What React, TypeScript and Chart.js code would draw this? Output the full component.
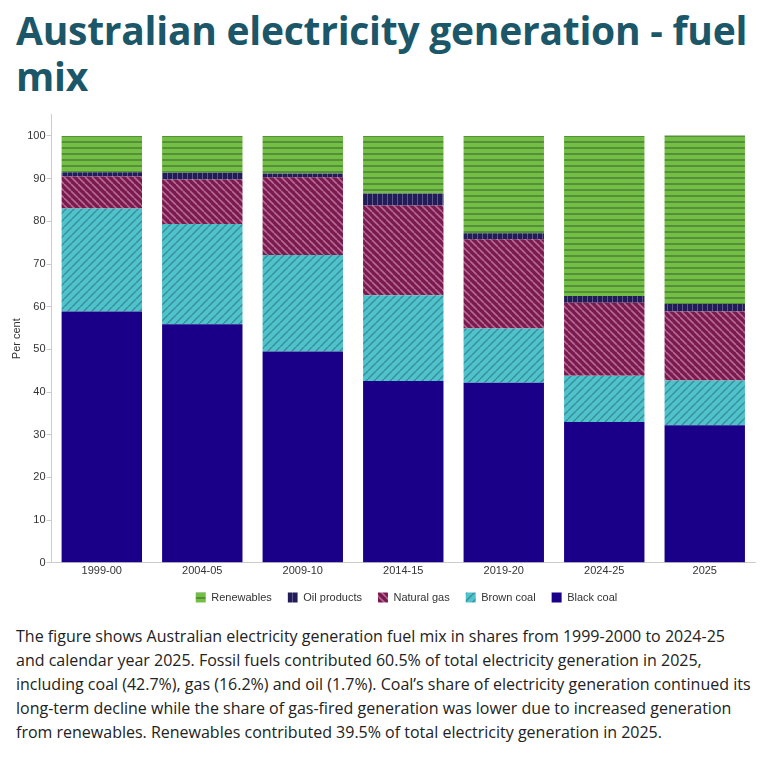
import React, { useEffect, useRef } from "react";
import { Chart, registerables } from "chart.js";

Chart.register(...registerables);

const categories = ["1999-00", "2004-05", "2009-10", "2014-15", "2019-20", "2024-25", "2025"];
const blackCoal = [58.9, 55.9, 49.5, 42.6, 42.2, 33.0, 32.2];
const brownCoal = [24.1, 23.5, 22.6, 20.1, 12.7, 10.8, 10.5];
const naturalGas = [7.5, 10.4, 18.2, 21.0, 20.9, 17.1, 16.2];
const oilProducts = [1.0, 1.6, 0.9, 2.8, 1.4, 1.6, 1.7];
const renewables = [8.5, 8.6, 8.8, 13.5, 22.8, 37.5, 39.5];
const yTicks = [0, 10, 20, 30, 40, 50, 60, 70, 80, 90, 100];

function makePattern(kind: string): CanvasPattern | string {
  const c = document.createElement("canvas");
  const ctx = c.getContext("2d");
  if (!ctx) return "#000";
  if (kind === "renew") {
    c.width = 6; c.height = 6;
    ctx.fillStyle = "#72bf44";
    ctx.fillRect(0, 0, 6, 6);
    ctx.fillStyle = "#558f3c";
    ctx.fillRect(0, 4, 6, 2);
  } else if (kind === "oil") {
    c.width = 5; c.height = 5;
    ctx.fillStyle = "#221d58";
    ctx.fillRect(0, 0, 5, 5);
    ctx.fillStyle = "#5a5688";
    ctx.fillRect(4, 0, 1, 5);
  } else if (kind === "gas") {
    const s = 7;
    c.width = s; c.height = s;
    ctx.fillStyle = "#7a1a4e";
    ctx.fillRect(0, 0, s, s);
    ctx.strokeStyle = "#b56a95";
    ctx.lineWidth = 1.6;
    for (const k of [-1, 0, 1]) {
      ctx.beginPath();
      ctx.moveTo(k * s, 0);
      ctx.lineTo(k * s + s, s);
      ctx.stroke();
    }
  } else if (kind === "brown") {
    const s = 8;
    c.width = s; c.height = s;
    ctx.fillStyle = "#4ec3cc";
    ctx.fillRect(0, 0, s, s);
    ctx.strokeStyle = "#3a8e98";
    ctx.lineWidth = 1.4;
    for (const k of [-1, 0, 1]) {
      ctx.beginPath();
      ctx.moveTo(k * s, s);
      ctx.lineTo(k * s + s, 0);
      ctx.stroke();
    }
  }
  const p = ctx.createPattern(c, "repeat");
  return p || "#000";
}

const shiftLegend = {
  id: "shiftLegend",
  afterLayout(chart: any) {
    const l = chart.legend;
    if (l) {
      l.left += 25;
      l.right += 25;
    }
  },
};

export default function App() {
  const ref = useRef<HTMLCanvasElement | null>(null);
  useEffect(() => {
    if (!ref.current) return;
    const font = { family: "'Liberation Sans', Arial, sans-serif", size: 11 };
    const chart = new Chart(ref.current, {
      type: "bar",
      data: {
        labels: categories,
        datasets: [
          { label: "Black coal", data: blackCoal, backgroundColor: "#1a0088" },
          { label: "Brown coal", data: brownCoal, backgroundColor: makePattern("brown") as any },
          { label: "Natural gas", data: naturalGas, backgroundColor: makePattern("gas") as any },
          { label: "Oil products", data: oilProducts, backgroundColor: makePattern("oil") as any },
          { label: "Renewables", data: renewables, backgroundColor: makePattern("renew") as any },
        ].map((d) => ({ ...d, borderWidth: 0, barPercentage: 0.8, categoryPercentage: 1 })),
      },
      plugins: [shiftLegend],
      options: {
        animation: false,
        responsive: true,
        maintainAspectRatio: false,
        layout: { padding: { top: 4, right: 6, left: 0, bottom: 0 } },
        plugins: {
          tooltip: { enabled: false },
          legend: {
            position: "bottom",
            reverse: true,
            labels: { boxWidth: 10, boxHeight: 10, padding: 16, color: "#333", font },
          },
        },
        scales: {
          x: {
            stacked: true,
            grid: { display: false, drawTicks: false },
            border: { color: "#cccccc" },
            ticks: { color: "#333", font, padding: 2 },
            afterFit: (scale: any) => {
              scale.height -= 4;
            },
          },
          y: {
            stacked: true,
            min: 0,
            max: 105,
            afterBuildTicks: (axis: any) => {
              axis.ticks = yTicks.map((v) => ({ value: v }));
            },
            grid: { drawOnChartArea: false, drawTicks: true, tickLength: 5, color: "#cccccc" },
            border: { color: "#cccccc" },
            ticks: { color: "#333", font, padding: 1 },
            title: { display: true, text: "Per cent", color: "#333", font, padding: { top: 2, bottom: 3 } },
          },
        },
      },
    });
    return () => chart.destroy();
  }, []);

  return (
    <div style={{ fontFamily: "'Open Sans', sans-serif" }}>
      <h1
        style={{
          margin: "-1px 0 0 0",
          padding: "0 8px",
          fontSize: 39,
          letterSpacing: "-0.25px",
          lineHeight: "46px",
          fontWeight: 700,
          color: "#1b5768",
        }}
      >
        Australian electricity generation - fuel mix
      </h1>
      <div style={{ position: "relative", height: 506, width: 753, marginTop: 8 }}>
        <canvas ref={ref} />
      </div>
      <p
        style={{
          margin: "11px 0 0 0",
          padding: "0 8px",
          fontSize: 16,
          lineHeight: "24px",
          color: "#222",
        }}
      >
        The figure shows Australian electricity generation fuel mix in shares from 1999-2000 to 2024-25 and calendar
        year 2025. Fossil fuels contributed 60.5% of total electricity generation in 2025, including coal (42.7%), gas
        (16.2%) and oil (1.7%). Coal’s share of electricity generation continued its long-term decline while the share
        of gas-fired generation was lower due to increased generation from renewables. Renewables contributed 39.5% of
        total electricity generation in 2025.
      </p>
    </div>
  );
}
